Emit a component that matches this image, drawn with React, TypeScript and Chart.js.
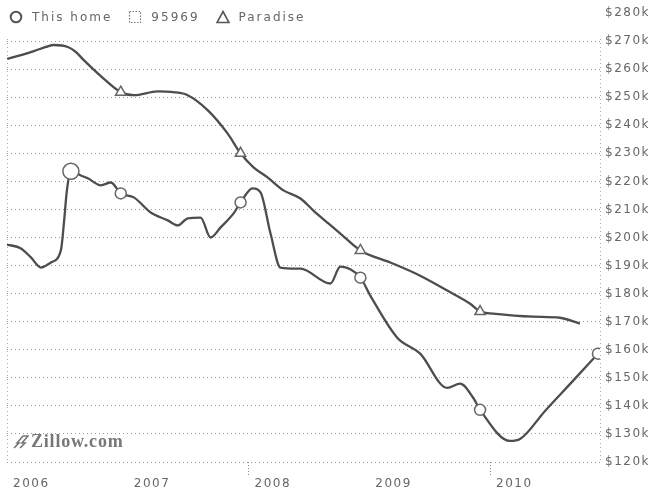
import React, { useEffect, useRef } from "react";
import { Chart, registerables } from "chart.js";

Chart.register(...registerables);

// ---- data ----
const seriesNames = ["This home", "95969", "Paradise"];
const legendIcons = ["circle", "square", "triangle"];

const homeYears = [
  2006.0, 2006.116, 2006.198, 2006.281, 2006.364, 2006.446, 2006.471, 2006.496, 2006.529,
  2006.612, 2006.669, 2006.777, 2006.86, 2006.942, 2007.05, 2007.19, 2007.331, 2007.413,
  2007.496, 2007.603, 2007.686, 2007.769, 2007.876, 2007.934, 2008.033, 2008.099, 2008.182,
  2008.264, 2008.43, 2008.678, 2008.76, 2008.926, 2009.008, 2009.231, 2009.421, 2009.645,
  2009.752, 2009.86, 2009.917, 2010.165, 2010.248, 2010.455, 2010.686, 2010.893,
];
const homeValues = [
  197.5, 196.1, 192.9, 189.3, 191.1, 195.4, 205.0, 216.8, 223.6,
  222.1, 221.1, 218.6, 219.6, 215.7, 214.3, 208.9, 206.1, 204.3,
  206.8, 207.1, 200.0, 203.6, 208.6, 212.5, 217.5, 216.1, 201.4,
  189.3, 188.9, 183.6, 189.6, 185.7, 179.3, 164.3, 158.6, 146.4,
  147.9, 142.9, 138.6, 127.5, 128.2, 138.2, 148.9, 158.6,
];

const zipYears: number[] = [];
const zipValues: number[] = [];

const paradiseYears = [
  2006.0, 2006.116, 2006.223, 2006.322, 2006.388, 2006.504, 2006.57, 2006.636, 2006.777,
  2006.942, 2007.05, 2007.248, 2007.38, 2007.496, 2007.661, 2007.826, 2007.934, 2008.041,
  2008.157, 2008.289, 2008.43, 2008.537, 2008.661, 2008.76, 2008.926, 2009.174, 2009.421,
  2009.645, 2009.835, 2009.917, 2010.025, 2010.355, 2010.579, 2010.744,
];
const paradiseValues = [
  263.6, 265.0, 266.4, 267.9, 268.6, 267.9, 266.1, 263.2, 257.5,
  251.8, 250.7, 252.1, 251.8, 250.7, 245.4, 237.1, 230.0, 225.0,
  221.4, 216.8, 213.9, 209.6, 205.0, 201.4, 195.4, 191.1, 186.4,
  181.1, 176.4, 173.6, 172.9, 171.8, 171.4, 169.3,
];

const homeMarkerYears = [2006.942, 2007.934, 2008.926, 2009.917, 2010.893];
const homeSaleYear = 2006.529;
const paradiseMarkerYears = [2006.942, 2007.934, 2008.926, 2009.917];

const yearTicks = [2006, 2007, 2008, 2009, 2010];
const tickMarkYears = [2008, 2010];
const yMin = 120;
const yMax = 280;
const yStep = 10;
const xMin = 2006;
const xMax = 2010.91;

const toPoints = (xs: number[], ys: number[]) => xs.map((x, i) => ({ x, y: ys[i] }));

const LINE = "#4d4d4d";
const TEXT = "#666";
const FONT = '"DejaVu Sans", sans-serif';

const decorPlugin = {
  id: "decor",
  beforeUpdate(chart: any) {
    chart.ctx.letterSpacing = "1.5px";
  },
  beforeDraw(chart: any) {
    chart.ctx.letterSpacing = "1.5px";
  },
  afterDraw(chart: any) {
    const { ctx, chartArea: a } = chart;
    ctx.save();
    ctx.strokeStyle = "#aaa";
    ctx.lineWidth = 1;
    ctx.setLineDash([1, 3]);
    [a.left, a.right].forEach((x: number) => {
      const px = Math.round(x) + 0.5;
      ctx.beginPath();
      ctx.moveTo(px, a.top + 26);
      ctx.lineTo(px, a.bottom);
      ctx.stroke();
    });
    ctx.restore();
  },
};

function LegendIcon({ type }: { type: string }) {
  return (
    <svg width="14" height="14" viewBox="0 0 14 14" style={{ display: "block" }}>
      {type === "circle" && <circle cx="7" cy="7" r="5.3" fill="#fff" stroke="#555" strokeWidth="2" />}
      {type === "square" && (
        <rect x="1.5" y="1.5" width="11" height="11" fill="#fff" stroke="#777" strokeWidth="1.2" strokeDasharray="1.5 1.5" />
      )}
      {type === "triangle" && <polygon points="7,1.5 13,12.5 1,12.5" fill="#fff" stroke="#555" strokeWidth="1.6" />}
    </svg>
  );
}

export default function App() {
  const ref = useRef<HTMLCanvasElement | null>(null);

  useEffect(() => {
    document.body.style.margin = "0";
    if (!ref.current) return;
    const chart = new Chart(ref.current, {
      type: "line",
      data: {
        datasets: [
          {
            label: seriesNames[2],
            data: toPoints(paradiseYears, paradiseValues),
            borderColor: LINE,
            borderWidth: 2.3,
            cubicInterpolationMode: "monotone",
            pointStyle: "triangle",
            pointBackgroundColor: "#fff",
            pointBorderColor: "#666",
            pointBorderWidth: 1.5,
            pointRadius: (c: any) => (c.raw && paradiseMarkerYears.includes(c.raw.x) ? 6 : 0),
          },
          {
            label: seriesNames[1],
            data: toPoints(zipYears, zipValues),
            borderColor: LINE,
            borderWidth: 2.3,
            pointRadius: 0,
          },
          {
            label: seriesNames[0],
            data: toPoints(homeYears, homeValues),
            borderColor: LINE,
            borderWidth: 2.3,
            cubicInterpolationMode: "monotone",
            pointStyle: "circle",
            pointBackgroundColor: "#fff",
            pointBorderColor: "#666",
            pointBorderWidth: 1.5,
            pointRadius: (c: any) =>
              !c.raw ? 0 : c.raw.x === homeSaleYear ? 8 : homeMarkerYears.includes(c.raw.x) ? 5.5 : 0,
          },
        ],
      },
      options: {
        animation: false,
        responsive: false,
        events: [],
        layout: { padding: { left: 6, top: 13, right: 0, bottom: 0 } },
        plugins: { legend: { display: false }, tooltip: { enabled: false } },
        scales: {
          x: {
            type: "linear",
            min: xMin,
            max: xMax,
            afterFit: (s: any) => {
              s.height = 31;
            },
            afterBuildTicks: (s: any) => {
              s.ticks = yearTicks.map((v) => ({ value: v }));
            },
            border: { display: false },
            grid: {
              display: true,
              drawOnChartArea: false,
              drawTicks: true,
              tickLength: 13,
              tickBorderDash: [1, 2],
              tickColor: (c: any) => (c.tick && tickMarkYears.includes(c.tick.value) ? "#888" : "rgba(0,0,0,0)"),
            },
            ticks: {
              autoSkip: false,
              maxRotation: 0,
              align: "start",
              labelOffset: 6,
              padding: 2,
              color: TEXT,
              font: { family: FONT, size: 12 },
              callback: (v: any) => String(v),
            },
          },
          y: {
            position: "right",
            min: yMin,
            max: yMax,
            afterFit: (s: any) => {
              s.width = 54;
            },
            border: { display: false, dash: [1, 3] },
            grid: {
              drawTicks: false,
              color: (c: any) => (c.tick && c.tick.value === yMax ? "rgba(0,0,0,0)" : "#9a9a9a"),
              lineWidth: 1,
            },
            ticks: {
              stepSize: yStep,
              padding: 5,
              color: TEXT,
              font: { family: FONT, size: 12 },
              callback: (v: any) => `$${v}k`,
            },
          },
        },
      },
      plugins: [decorPlugin],
    } as any);
    return () => chart.destroy();
  }, []);

  return (
    <div style={{ position: "relative", width: 654, height: 493, background: "#fff", overflow: "hidden" }}>
      <canvas ref={ref} width={654} height={493} style={{ display: "block" }} />
      <div
        style={{
          position: "absolute",
          left: 9,
          top: 10,
          display: "flex",
          alignItems: "center",
          font: `12px ${FONT}`,
          color: TEXT,
          letterSpacing: "2px",
          lineHeight: "14px",
        }}
      >
        {seriesNames.map((n, i) => (
          <div key={n} style={{ display: "flex", alignItems: "center", marginRight: 16 }}>
            <LegendIcon type={legendIcons[i]} />
            <span style={{ marginLeft: 9 }}>{n}</span>
          </div>
        ))}
      </div>
      <div
        style={{
          position: "absolute",
          left: 13,
          top: 431,
          display: "flex",
          alignItems: "center",
          color: "#777",
        }}
      >
        <svg width="16" height="15" viewBox="0 0 16 15" style={{ display: "block", marginRight: 2 }}>
          <polyline points="1,14 6,9 4,9 10,2 15,2 9,9 12,9 7,14" fill="none" stroke="#777" strokeWidth="1.6" />
        </svg>
        <span style={{ font: 'bold 18px "Liberation Serif", serif', letterSpacing: "0.8px" }}>Zillow.com</span>
      </div>
    </div>
  );
}
